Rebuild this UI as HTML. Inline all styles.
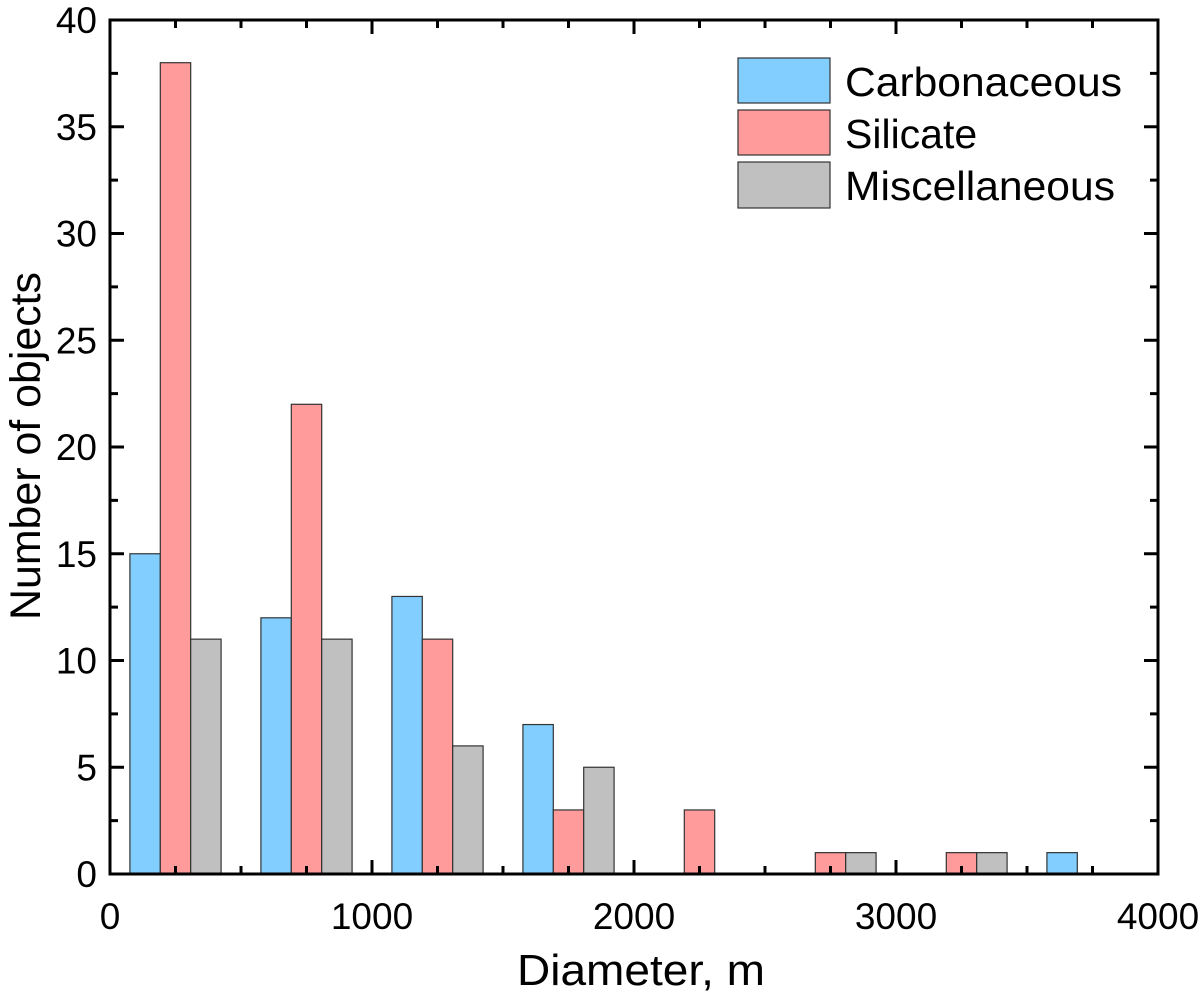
<!DOCTYPE html>
<html><head><meta charset="utf-8"><style>
body{margin:0;background:#fff}
svg text{font-family:"Liberation Sans",Arial,sans-serif;fill:#000}
</style></head><body>
<svg id="chart" width="1200" height="995">
<g id="bars"></g>
<g id="axes"></g>
<g>
<rect x="738" y="58" width="92" height="45" fill="#82cfff" stroke="#333" stroke-width="1.2"/>
<text x="845" y="96" font-size="41" textLength="277" lengthAdjust="spacingAndGlyphs">Carbonaceous</text>
<rect x="738" y="110" width="92" height="45" fill="#ff9b9b" stroke="#333" stroke-width="1.2"/>
<text x="845" y="148" font-size="41">Silicate</text>
<rect x="738" y="162" width="92" height="46" fill="#c0c0c0" stroke="#333" stroke-width="1.2"/>
<text x="845" y="200" font-size="41" textLength="270" lengthAdjust="spacingAndGlyphs">Miscellaneous</text>
</g>
<text x="641" y="985" font-size="44" text-anchor="middle" textLength="248" lengthAdjust="spacingAndGlyphs">Diameter, m</text>
<text transform="translate(40,446) rotate(-90)" font-size="43" text-anchor="middle" textLength="348" lengthAdjust="spacingAndGlyphs">Number of objects</text>
</svg>
<script>
const groupStarts=[76,576,1076,1576,2076,2576,3076,3576];
const carbonaceous=[15,12,13,7,0,0,0,1];
const silicate=[38,22,11,3,3,1,1,0];
const miscellaneous=[11,11,6,5,0,1,1,0];
const xTicks=[0,1000,2000,3000,4000];
const yTicks=[0,5,10,15,20,25,30,35,40];
const binWidth=116;
const L=110,R=1158,T=20,B=874;
const xs=v=>L+v/4000*(R-L);
const ys=v=>B-v/40*(B-T);
const NS="http://www.w3.org/2000/svg";
const bars=document.getElementById('bars'),axes=document.getElementById('axes');
function mk(p,tag,a){const e=document.createElementNS(NS,tag);for(const k in a)e.setAttribute(k,a[k]);p.appendChild(e);return e;}
const series=[[carbonaceous,'#82cfff','carbonaceous'],[silicate,'#ff9b9b','silicate'],[miscellaneous,'#c0c0c0','miscellaneous']];
series.forEach((s,si)=>{s[0].forEach((v,i)=>{if(!v)return;
const x0=groupStarts[i]+si*binWidth;
const r=mk(bars,'rect',{x:xs(x0),y:ys(v),width:xs(x0+binWidth)-xs(x0),height:ys(0)-ys(v),fill:s[1],stroke:'#333','stroke-width':1.2});


});});
mk(axes,'rect',{x:L,y:T,width:R-L,height:B-T,fill:'none',stroke:'#000','stroke-width':3});
for(let v=0;v<=4000;v+=250){const maj=v%1000===0,len=maj?14:8;
mk(axes,'line',{x1:xs(v),x2:xs(v),y1:B,y2:B-len,stroke:'#000','stroke-width':3});
mk(axes,'line',{x1:xs(v),x2:xs(v),y1:T,y2:T+len,stroke:'#000','stroke-width':3});}
for(let v=0;v<=40;v+=2.5){const maj=v%5===0,len=maj?14:8;
mk(axes,'line',{x1:L,x2:L+len,y1:ys(v),y2:ys(v),stroke:'#000','stroke-width':3});
mk(axes,'line',{x1:R,x2:R-len,y1:ys(v),y2:ys(v),stroke:'#000','stroke-width':3});}
xTicks.forEach(v=>{const t=mk(axes,'text',{x:xs(v),y:929,'font-size':37,'text-anchor':'middle'});t.textContent=v;

});
yTicks.forEach(v=>{const t=mk(axes,'text',{x:97,y:ys(v)+13,'font-size':37,'text-anchor':'end'});t.textContent=v;

});
</script>
</body></html>
